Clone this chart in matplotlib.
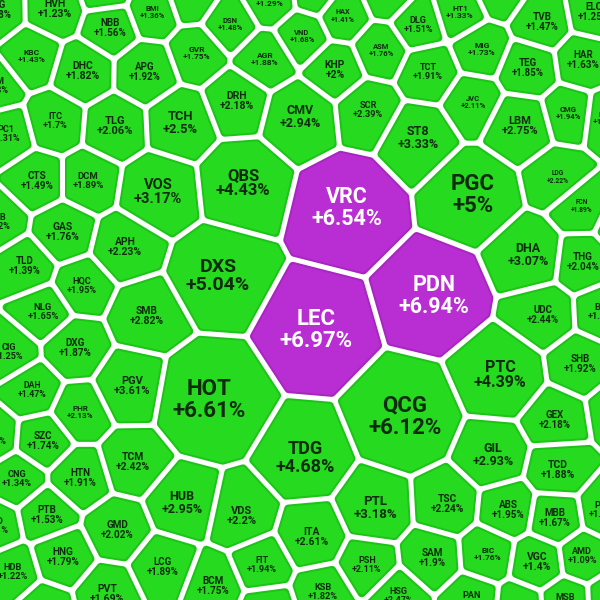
import numpy as np
import matplotlib
matplotlib.use('Agg')
import matplotlib.pyplot as plt
from matplotlib.patches import Polygon

# ---------------- data ----------------
tickers = ['DPG', 'HVH', '', 'BMI', '', 'KBC', 'NBB', 'DHC', 'APG', 'GVR', 'DPM', 'ITC', 'TLG', 'TCH', 'PC1',
           'VTP', '', '', 'DSN', 'HAX', 'VND', 'AGR', 'ASM', 'KHP', 'DRH', 'CMV', 'SCR',
           'DLG', 'HT1', 'HDC', 'TVB', 'ELC', 'MIG', 'TCT', 'TEG', 'HAR', 'JVC', 'LBM', 'CMG', 'ST8', 'NKG',
           'CTS', 'DCM', 'VOS', 'VPB', 'GAS', 'APH', 'TLD', 'HQC',
           'QBS', 'VRC', 'DXS', 'LEC',
           'PGC', 'LDG', 'FCN', 'DHA', 'THG', 'PDN', '',
           'NLG', 'SMB', 'CIG', 'DXG', 'PGV', 'DAH', 'PHR', 'SZC', 'DIG', 'HOT',
           'QCG', 'TDG',
           'UDC', 'BSR', 'PTC', 'SHB', 'GEX', '', 'GIL',
           'CNG', 'HTN', 'TCM', 'HUB', 'PTB', 'PVD', 'GMD', 'HNG', 'HDB', 'LCG', 'PVT', '',
           'VDS', 'PTL', 'ITA', 'FIT', 'PSH', 'BCM', 'KSB', '', 'HSG',
           'TCD', 'TSC', 'ABS', 'MBB', 'POW', 'SAM', 'BIC', 'VGC', 'AMD', 'PAN', '', 'MSB', '']
nan = float('nan')
changes = [1.88, 1.23, nan, 1.36, nan, 1.43, 1.56, 1.82, 1.92, 1.75, 1.43, 1.7, 2.06, 2.5, 1.31,
           1.29, nan, nan, 1.48, 1.41, 1.68, 1.88, 1.76, 2, 2.18, 2.94, 2.39,
           1.51, 1.33, 1.18, 1.47, 1.25, 1.73, 1.91, 1.85, 1.63, 2.11, 2.75, 1.94, 3.33, 1.52,
           1.49, 1.89, 3.17, 1.2, 1.76, 2.23, 1.39, 1.95,
           4.43, 6.54, 5.04, 6.97,
           5, 2.22, 1.89, 3.07, 2.04, 6.94, nan,
           1.65, 2.82, 1.25, 1.87, 3.61, 1.47, 2.13, 1.74, 1.84, 6.61,
           6.12, 4.68,
           2.44, 1.71, 4.39, 1.92, 2.18, nan, 2.93,
           1.34, 1.91, 2.42, 2.95, 1.53, 1.41, 2.02, 1.79, 1.22, 1.89, 1.69, nan,
           2.2, 3.18, 2.61, 1.94, 2.11, 1.75, 1.82, nan, 2.47,
           1.88, 2.24, 1.95, 1.67, 1.52, 1.9, 1.76, 1.4, 1.09, 1.62, nan, 1.71, nan]
ceiling = ['VRC', 'PDN', 'LEC']

# ---------------- layout (seed points of the power diagram) ----------------
seed_x = [-4, 55, 105, 152, 192, 32, 110, 83, 145, 197, -6, 55, 115, 180, 6,
          270, 315, 388, 230, 343, 302, 265, 381, 335, 237, 300, 368,
          418, 460, 500, 542, 594, 482, 428, 528, 583, 473, 520, 568, 418, 607,
          37, 88, 158, -2, 63, 125, 25, 82,
          243, 347, 218, 316,
          473, 558, 582, 528, 583, 434, 622,
          43, 147, 9, 75, 132, 32, 80, 43, -8, 209,
          405, 305,
          543, 603, 500, 580, 555, 618, 493,
          17, 80, 133, 182, 47, -6, 117, 63, 13, 163, 107, 45,
          242, 375, 312, 262, 367, 213, 323, 268, 398,
          558, 447, 508, 555, 604, 432, 488, 537, 582, 472, 520, 565, 610]
seed_y = [10, 9, -8, 12, -2, 56, 28, 71, 72, 53, 86, 121, 126, 123, 134,
          0, -6, -4, 24, 16, 36, 59, 50, 70, 101, 117, 110,
          25, 12, -7, 22, 12, 49, 72, 68, 60, 102, 126, 113, 138, 118,
          181, 181, 192, 222, 232, 247, 266, 286,
          183, 208, 276, 330,
          195, 177, 206, 255, 262, 296, 225,
          312, 316, 352, 348, 386, 390, 412, 441, 437, 400,
          417, 458,
          315, 312, 375, 364, 420, 410, 455,
          479, 478, 462, 503, 515, 526, 530, 557, 572, 567, 594, 608,
          516, 508, 537, 565, 565, 586, 592, 610, 596,
          470, 504, 510, 518, 510, 558, 554, 562, 556, 600, 605, 602, 600]
seed_r = [28, 30, 25, 26, 24, 30, 30, 33, 33, 27, 25, 28, 32, 36, 25,
          27, 22, 22, 27, 25, 28, 30, 28, 30, 32, 40, 32,
          27, 26, 25, 32, 30, 28, 30, 32, 30, 27, 36, 27, 38, 25,
          27, 27, 42, 25, 30, 33, 28, 26,
          48, 62, 55, 62,
          52, 27, 26, 38, 28, 60, 25,
          26, 38, 25, 30, 40, 26, 27, 27, 25, 70,
          64, 45,
          30, 25, 50, 28, 30, 25, 36,
          27, 30, 33, 36, 28, 25, 32, 32, 26, 32, 32, 25,
          30, 38, 34, 28, 28, 28, 28, 25, 25,
          32, 33, 32, 32, 28, 30, 30, 32, 28, 28, 25, 28, 25]
label_fs = [7, 7.5, 5, 4.5, 5, 5, 6.5, 7.5, 7, 5, 6, 6, 8, 9.3, 5.5,
            5, 5, 5, 4.5, 4.2, 4.5, 5, 4.5, 7.5, 7.5, 9, 6,
            5.5, 5, 5, 6.5, 7, 5, 6, 7, 6.5, 4.5, 8, 4.5, 9, 5,
            6.5, 5.8, 10.5, 6, 6.8, 7.5, 7, 6,
            12, 15.5, 14, 16,
            16, 3.8, 3.8, 9, 6.5, 15.5, 5,
            5.8, 7.5, 5.5, 6.5, 8, 5.3, 4.8, 6.5, 6, 16,
            16, 13,
            7, 6, 11.5, 6.5, 7, 5, 9,
            6, 6.5, 7.5, 9, 6.5, 6, 6.5, 7.2, 6, 7, 7.5, 5,
            8, 9.5, 7.5, 6, 5.5, 6.5, 6, 5, 5.5,
            7.5, 7.3, 6.5, 7, 6, 6.5, 5, 7.5, 5.5, 6, 5, 6, 5]

GREEN = '#26da20'
GREEN_RIM = '#1cc417'
PURPLE = '#b92ed2'
PURPLE_RIM = '#a826c0'
TXT_DARK = '#0e2b0e'
GAP = 5.0      # white gap between cells (px)
RR = 4.0       # corner rounding radius (px)
RIM = 2.0      # darker rim width (px)
WK = 0.5       # weight factor of the power diagram


def font_size(fs):
    if fs < 6:
        return fs + 1.0
    if fs < 7:
        return fs + 0.6
    return fs


def clip_half(P, a, b):
    if len(P) == 0:
        return P
    d = P @ a - b
    out = []
    n = len(P)
    for k in range(n):
        c, nx = P[k], P[(k + 1) % n]
        dc, dn = d[k], d[(k + 1) % n]
        if dc <= 0:
            out.append(c)
        if (dc <= 0) != (dn <= 0):
            t = dc / (dc - dn)
            out.append(c + t * (nx - c))
    return np.array(out)


def cell(i, extra):
    pi = pts[i]
    P = box.copy()
    for j in order[i]:
        if j == i:
            continue
        pj = pts[j]
        a = 2 * (pj - pi)
        b = pj @ pj - pi @ pi - w[j] + w[i]
        b -= np.hypot(*a) * (GAP / 2 + RR + extra)
        P = clip_half(P, a, b)
        if len(P) == 0:
            break
    return P


pts = np.column_stack([seed_x, seed_y]).astype(float)
w = WK * np.array(seed_r, float) ** 2
order = [np.argsort(np.hypot(*(pts - p).T)) for p in pts]

fig = plt.figure(figsize=(6, 6), dpi=100)
ax = fig.add_axes([0, 0, 1, 1])
ax.set_xlim(0, 600)
ax.set_ylim(600, 0)
ax.axis('off')
fig.patch.set_facecolor('white')

box = np.array([[-120, -120], [720, -120], [720, 720], [-120, 720]], float)
for i in range(len(pts)):
    P = cell(i, 0.0)
    if len(P) < 3:
        continue
    up = tickers[i] in ceiling
    col = PURPLE if up else GREEN
    rim = PURPLE_RIM if up else GREEN_RIM
    ax.add_patch(Polygon(P, closed=True, fc=rim, ec=rim, lw=2 * RR * 0.72,
                         joinstyle='round', zorder=1))
    Q = cell(i, RIM)
    if len(Q) >= 3:
        ax.add_patch(Polygon(Q, closed=True, fc=col, ec=col, lw=2 * RR * 0.72,
                             joinstyle='round', zorder=2))
    if tickers[i]:
        tc = 'white' if up else TXT_DARK
        ax.text(pts[i][0], pts[i][1], f"{tickers[i]}\n+{changes[i]:g}%", ha='center', va='center',
                fontsize=font_size(label_fs[i]), fontfamily='Roboto', fontweight='bold',
                color=tc, linespacing=1.05, zorder=3, clip_on=True)

fig.savefig('out.png', dpi=100, facecolor='white')
